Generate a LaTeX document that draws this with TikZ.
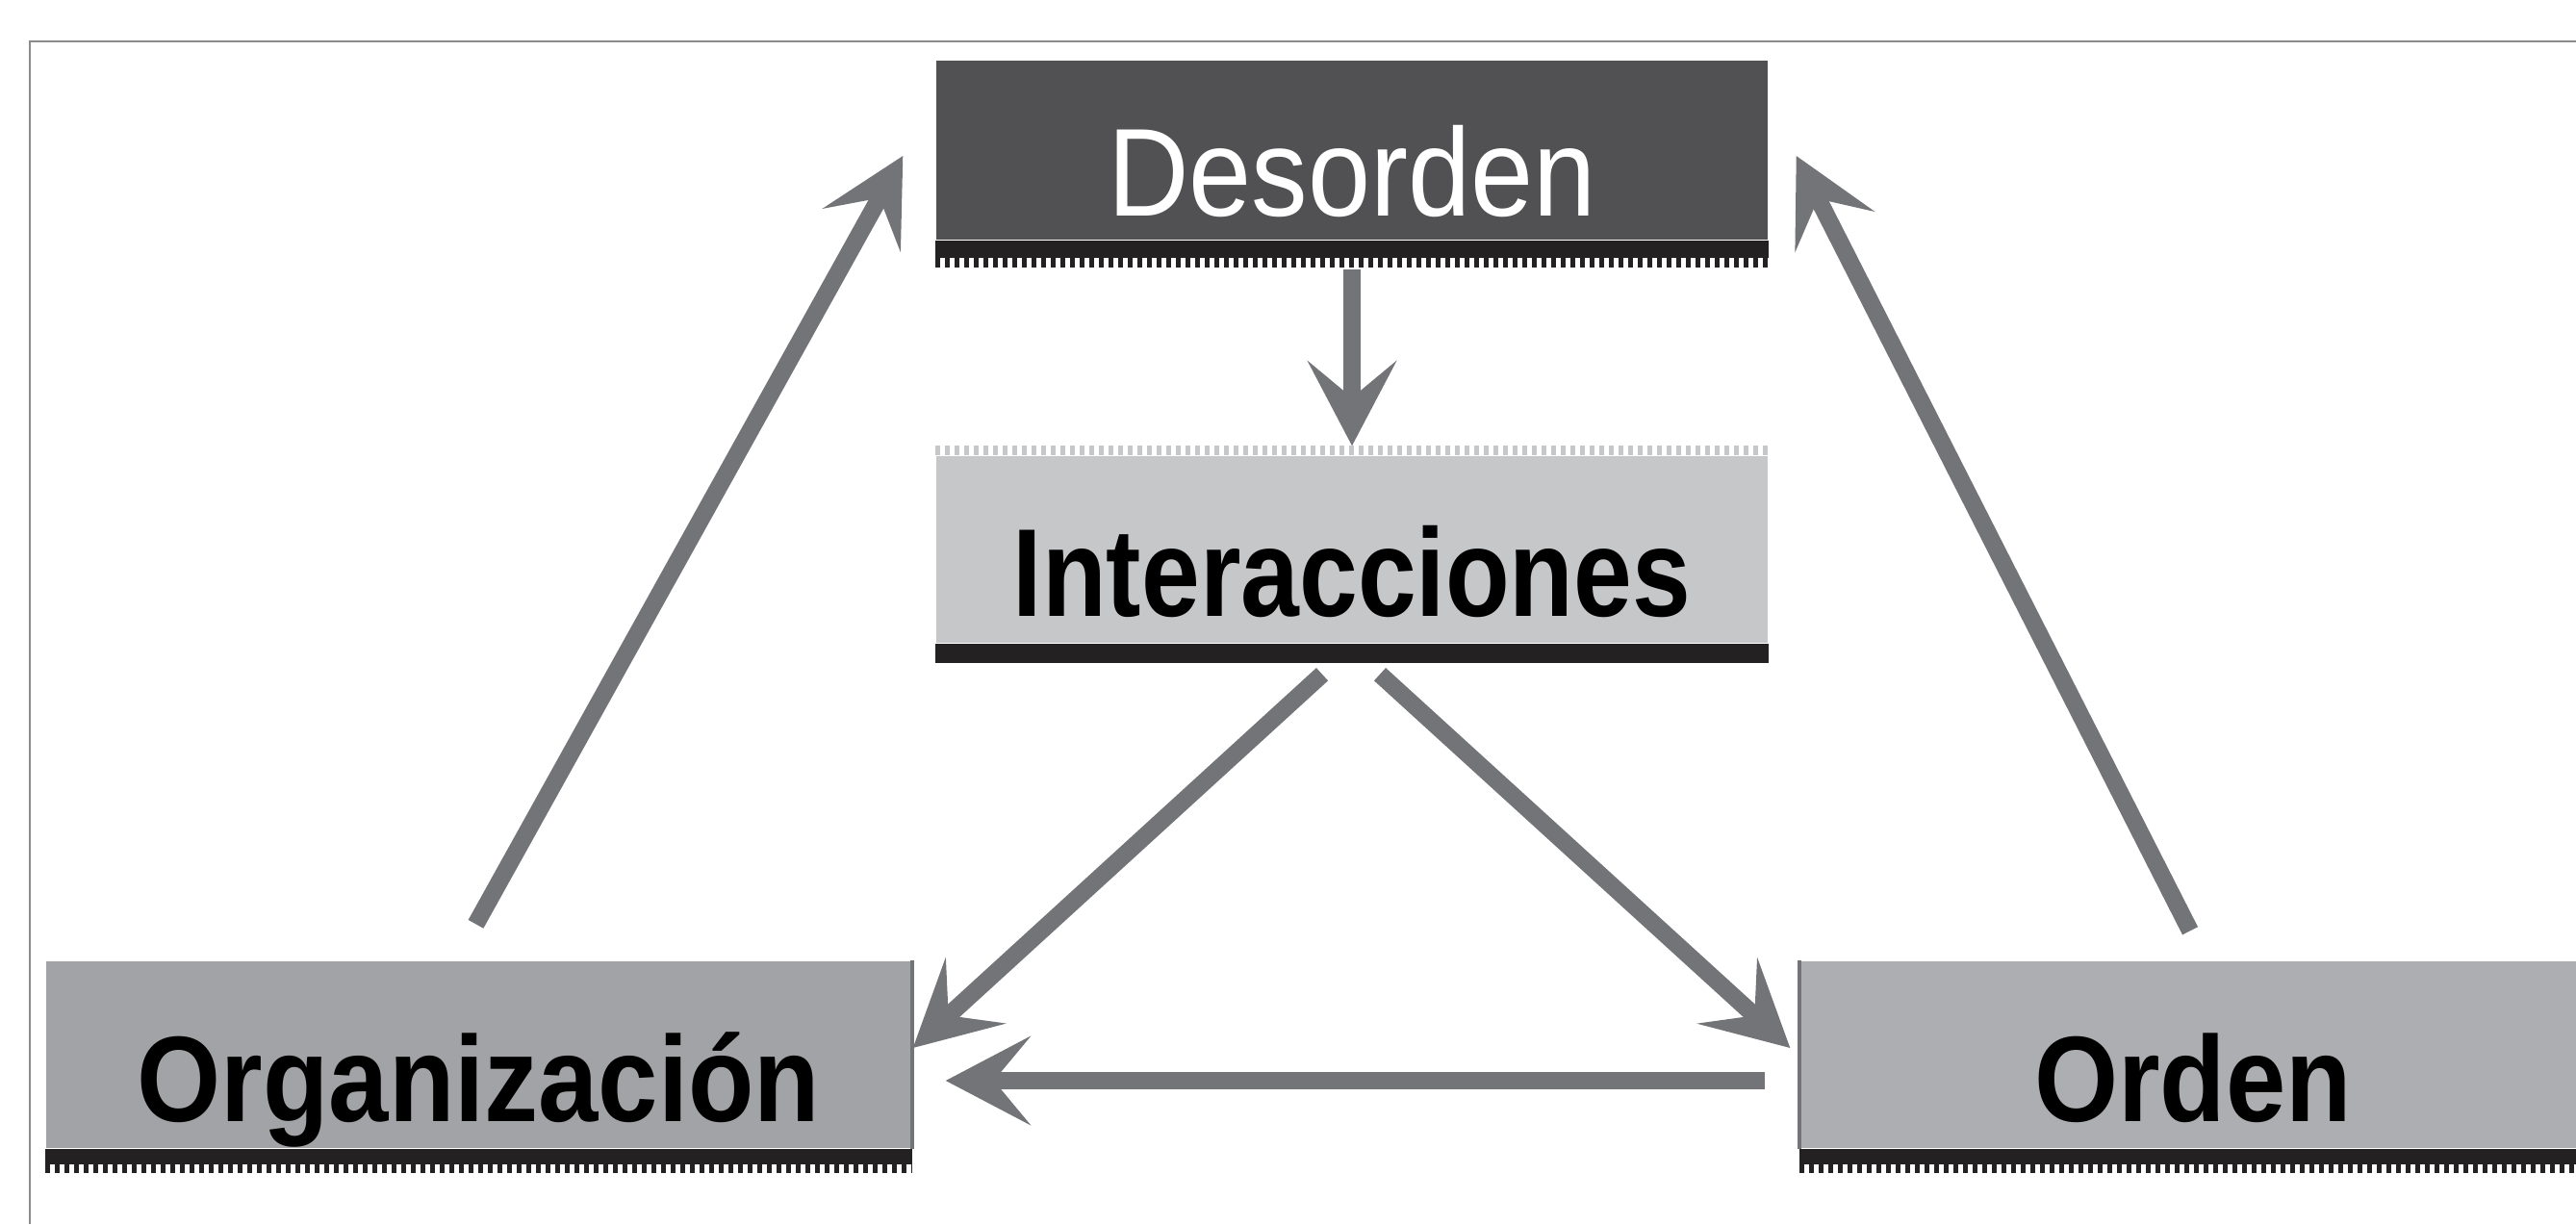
\documentclass[tikz,border=0pt]{standalone}
\usepackage{fontspec}
\setmainfont{Liberation Sans}
\newfontfamily\thinfont[FakeStretch=0.9]{Liberation Sans}
\newfontfamily\fatfont[FakeStretch=0.84]{Liberation Sans}
\newfontfamily\widefont[FakeStretch=0.885]{Liberation Sans}
\usetikzlibrary{arrows.meta}
\definecolor{dcol}{RGB}{81,81,83}
\definecolor{icol}{RGB}{198,199,201}
\definecolor{ocol}{RGB}{162,163,166}
\definecolor{rcol}{RGB}{173,174,177}
\definecolor{bandcol}{RGB}{35,33,34}
\definecolor{arrcol}{RGB}{115,116,119}
\definecolor{framecol}{RGB}{140,140,142}
\begin{document}
\begin{tikzpicture}[
  box/.style={inner sep=0pt, text height=1.38cm, text depth=0cm, minimum height=1.9cm},
  band/.style={fill=bandcol},
  fringe/.style={draw=bandcol, line width=0.1cm, dash pattern=on 0.05cm off 0.05cm},
  arr/.style={draw=arrcol, line width=0.18cm, -{Stealth[length=0.88cm,width=0.92cm,inset=0.38cm]}}]
\useasboundingbox (0,0) rectangle (26.77,12.72);
\draw[framecol, line width=0.7pt] (0.31,0) -- (0.31,12.29) -- (26.77,12.29);

\node[box, fill=dcol, minimum width=8.64cm, minimum height=1.86cm, text=white] (D) at (14.05,11.16) {\thinfont\fontsize{37}{40}\selectfont Desorden};
\node[box, fill=icol, minimum width=8.64cm, minimum height=1.94cm] (I) at (14.05,7.01) {\fatfont\bfseries\fontsize{37}{40}\selectfont Interacciones};
\node[box, fill=ocol, minimum width=8.99cm, minimum height=1.94cm] (O) at (4.975,1.76) {\widefont\bfseries\fontsize{36}{40}\selectfont Organización};
\node[box, fill=rcol, minimum width=8.16cm, minimum height=1.94cm] (R) at (22.79,1.76) {\widefont\bfseries\fontsize{36}{40}\selectfont Orden};

% dark bottom bands
\fill[band] (D.south west) rectangle ([yshift=-0.18cm]D.south east);
\fill[band] (I.south west) rectangle ([yshift=-0.2cm]I.south east);
\fill[band] (O.south west) rectangle ([yshift=-0.16cm]O.south east);
\fill[band] (R.south west) rectangle ([yshift=-0.16cm]R.south east);
\draw[fringe] ([yshift=-0.23cm]D.south west) -- ([yshift=-0.23cm]D.south east);
\draw[fringe] ([yshift=-0.2cm]O.south west) -- ([yshift=-0.2cm]O.south east);
\draw[fringe] ([yshift=-0.2cm]R.south west) -- ([yshift=-0.2cm]R.south east);
\draw[fringe, draw=icol] ([yshift=0.05cm]I.north west) -- ([yshift=0.05cm]I.north east);
% darker side edges
\draw[arrcol, line width=0.04cm] (O.north east) -- (O.south east);
\draw[arrcol, line width=0.04cm] (R.north west) -- (R.south west);

\path[arr, shorten <=0.3cm, shorten >=0.1cm] (D.south) -- (I.north);
\path[arr] ([xshift=-0.3mm,yshift=3.8mm]O.north) -- ([xshift=-3.4mm,yshift=-0.6mm]D.west);
\path[arr] ([xshift=-0.3mm,yshift=3.1mm]R.north) -- ([xshift=2.9mm,yshift=-0.6mm]D.east);
\path[arr] ([xshift=-3.1mm,yshift=-3.2mm]I.south) -- ([xshift=0.1mm,yshift=0.7mm]O.east);
\path[arr] ([xshift=2.9mm,yshift=-3.2mm]I.south) -- ([xshift=-1mm,yshift=0.7mm]R.west);
\path[arr, shorten <=0.36cm, shorten >=0.35cm] ([yshift=-2.7mm]R.west) -- ([yshift=-2.7mm]O.east);
\end{tikzpicture}
\end{document}
